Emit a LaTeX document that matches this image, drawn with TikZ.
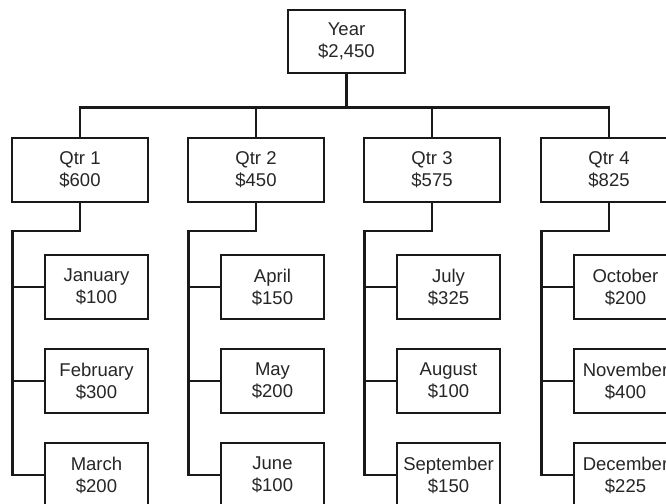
\documentclass[tikz,border=0pt]{standalone}
\usepackage{fontspec}
\setmainfont{Liberation Sans}
\usetikzlibrary{calc}
\begin{document}
\begin{tikzpicture}[x=1pt,y=-1pt,
  conn/.style={line width=2.4pt, line join=miter, line cap=rect, black!90},
  box/.style={draw=black!90, line width=2.4pt, fill=white, inner sep=0pt, align=center,
    font=\fontsize{18.5}{22}\selectfont, text=black!85},
  topbox/.style={box, minimum width=117pt, minimum height=63pt},
  qbox/.style={box, minimum width=136pt, minimum height=64pt},
  mbox/.style={box, minimum width=103pt, minimum height=64pt}]
\useasboundingbox (0,0) rectangle (666,503);
\clip (0,0) rectangle (666,503);
\node[topbox] (year) at (346.5,41.5) {Year\\\$2,450};
\node[qbox] (q1) at (80,170) {Qtr 1\\\$600};
\node[qbox] (q2) at (256,170) {Qtr 2\\\$450};
\node[qbox] (q3) at (432,170) {Qtr 3\\\$575};
\node[qbox] (q4) at (609,170) {Qtr 4\\\$825};
% months
\node[mbox] (jan) at (96.5,287) {January\\\$100};
\node[mbox] (feb) at (96.5,381) {February\\\$300};
\node[mbox] (mar) at (96.5,475) {March\\\$200};
\node[mbox] (apr) at (272.5,287) {April\\\$150};
\node[mbox] (may) at (272.5,381) {May\\\$200};
\node[mbox] (jun) at (272.5,475) {June\\\$100};
\node[mbox] (jul) at (448.5,287) {July\\\$325};
\node[mbox] (aug) at (448.5,381) {August\\\$100};
\node[mbox] (sep) at (448.5,475) {September\\\$150};
\node[mbox] (oct) at (625.5,287) {October\\\$200};
\node[mbox] (nov) at (625.5,381) {November\\\$400};
\node[mbox] (dec) at (625.5,475) {December\\\$225};
% top bus
\coordinate (bus) at (346.5,107.5);
\draw[conn] (year.south) -- (bus);
\draw[conn] (q1.north) |- (bus) -| (q4.north);
\draw[conn] (q2.north) -- (q2.north |- bus);
\draw[conn] (q3.north) -- (q3.north |- bus);
% quarter trunks
\coordinate (t1) at ($(q1.south west)+(1.5,27.5)$);
\coordinate (t2) at ($(q2.south west)+(1.5,27.5)$);
\coordinate (t3) at ($(q3.south west)+(1.5,27.5)$);
\coordinate (t4) at ($(q4.south west)+(1.5,27.5)$);
\draw[conn] (q1.south) |- (t1) |- (mar.west);
\draw[conn] (t1 |- jan.west) -- (jan.west);
\draw[conn] (t1 |- feb.west) -- (feb.west);
\draw[conn] (q2.south) |- (t2) |- (jun.west);
\draw[conn] (t2 |- apr.west) -- (apr.west);
\draw[conn] (t2 |- may.west) -- (may.west);
\draw[conn] (q3.south) |- (t3) |- (sep.west);
\draw[conn] (t3 |- jul.west) -- (jul.west);
\draw[conn] (t3 |- aug.west) -- (aug.west);
\draw[conn] (q4.south) |- (t4) |- (dec.west);
\draw[conn] (t4 |- oct.west) -- (oct.west);
\draw[conn] (t4 |- nov.west) -- (nov.west);
\end{tikzpicture}
\end{document}
